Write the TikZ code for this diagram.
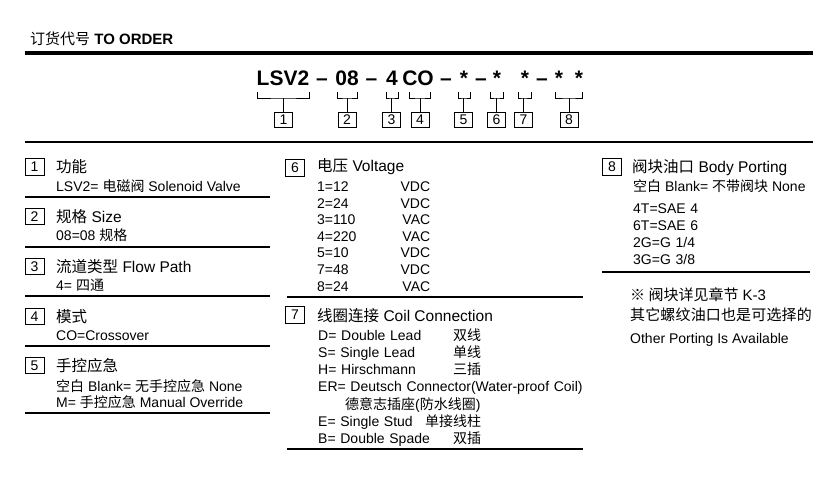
\documentclass[tikz,border=0pt]{standalone}
\usepackage{fontspec}
\setmainfont{Liberation Sans}
\newfontfamily\cjk{Noto Sans CJK SC}
\newfontfamily\cjkwide{Noto Sans CJK SC}[LetterSpace=1]
\newcommand{\zh}[1]{{\cjk #1}}
\usepackage{tikz}

\begin{document}
\begin{tikzpicture}[x=1pt, y=-1pt,
  head/.style={anchor=base west, inner sep=0, font=\fontsize{15.5}{18}\selectfont},
  txt/.style={anchor=base west, inner sep=0, font=\fontsize{14}{17}\selectfont},
  lst/.style={txt, align=left},
  part/.style={anchor=base, inner sep=0, font=\fontsize{21}{24}\selectfont\bfseries},
  num/.style={draw, line width=0.8pt, inner sep=0, minimum width=18pt, minimum height=15pt, font=\fontsize{14}{14}\selectfont},
  secnum/.style={num, minimum width=19pt, minimum height=16.5pt},
  rule/.style={line width=1.1pt},
  brace/.style={line width=0.8pt}]
\useasboundingbox (0,0) rectangle (821,482);
% заголовок
\node [anchor=base west, inner sep=0, font=\fontsize{15}{15}\selectfont] (title) at (30,44.5) {\zh{订货代号} \textbf{TO ORDER}};
\draw [line width=4pt] (25,53) -- (813,53);
% код
\node [part] (c1) at (283,85) {LSV2};
\node [part] (d1) at (322,85) {--};
\node [part] (c2) at (347,85) {08};
\node [part] (d2) at (371.5,85) {--};
\node [part] (c3) at (392,85) {4};
\node [part] (c4) at (418,85) {CO};
\node [part] (d3) at (446,85) {--};
\node [part] (c5) at (464,85) {*};
\node [part] (d4) at (481,85) {--};
\node [part] (c6) at (497,85) {*};
\node [part] (c7) at (525,85) {*};
\node [part] (d5) at (542,85) {--};
\node [part] (c8a) at (559,85) {*};
\node [part] (c8b) at (579,85) {*};
% номера
\node [num] (n1) at (283.5,119.5) {1};
\node [num] (n2) at (347,119.5) {2};
\node [num] (n3) at (391.5,119.5) {3};
\node [num] (n4) at (420,119.5) {4};
\node [num] (n5) at (463.5,119.5) {5};
\node [num] (n6) at (496.5,119.5) {6};
\node [num] (n7) at (523.5,119.5) {7};
\node [num] (n8) at (569,119.5) {8};
% скобки
\coordinate (a1) at (257,92); \coordinate (b1) at (309,92); \coordinate (m1) at (283.5,98);
\coordinate (a2) at (337,92); \coordinate (b2) at (357,92); \coordinate (m2) at (347,98);
\coordinate (a3) at (386,92); \coordinate (b3) at (398,92); \coordinate (m3) at (391.5,98);
\coordinate (a4) at (409,92); \coordinate (b4) at (430,92); \coordinate (m4) at (420,98);
\coordinate (a5) at (458,92); \coordinate (b5) at (470,92); \coordinate (m5) at (463.5,98);
\coordinate (a6) at (490,92); \coordinate (b6) at (503,92); \coordinate (m6) at (496.5,98);
\coordinate (a7) at (518,92); \coordinate (b7) at (531,92); \coordinate (m7) at (523.5,98);
\coordinate (a8) at (555,92); \coordinate (b8) at (582,92); \coordinate (m8) at (569,98);
\draw [brace] (a1) |- (m1) -| (b1) (m1) -- (n1);
\draw [brace] (a2) |- (m2) -| (b2) (m2) -- (n2);
\draw [brace] (a3) |- (m3) -| (b3) (m3) -- (n3);
\draw [brace] (a4) |- (m4) -| (b4) (m4) -- (n4);
\draw [brace] (a5) |- (m5) -| (b5) (m5) -- (n5);
\draw [brace] (a6) |- (m6) -| (b6) (m6) -- (n6);
\draw [brace] (a7) |- (m7) -| (b7) (m7) -- (n7);
\draw [brace] (a8) |- (m8) -| (b8) (m8) -- (n8);
\draw [rule] (25,142) -- (813,142);
% разделы 1-5
\node [secnum] (s1) at (34.5,167) {1};
\node [head] (h1) at (56,172) {\zh{功能}};
\node [txt] (t1) at (56,191) {LSV2= \zh{电磁阀} Solenoid Valve};
\draw [rule] (25,197) -- (270,197);
\node [secnum] (s2) at (34.5,216.5) {2};
\node [head] (h2) at (56,222) {\zh{规格} Size};
\node [txt] (t2) at (56,240) {08=08 \zh{规格}};
\draw [rule] (25,247) -- (270,247);
\node [secnum] (s3) at (34.5,266.5) {3};
\node [head] (h3) at (56,272) {\zh{流道类型} Flow Path};
\node [txt] (t3) at (56,290) {4= \zh{四通}};
\draw [rule] (25,296) -- (270,296);
\node [secnum] (s4) at (34.5,316.5) {4};
\node [head] (h4) at (56,322) {\zh{模式}};
\node [txt] (t4) at (56,340) {CO=Crossover};
\draw [rule] (25,346) -- (270,346);
\node [secnum] (s5) at (34.5,365.5) {5};
\node [head] (h5) at (56,371) {\zh{手控应急}};
\node [txt] (t5a) at (56,391) {\zh{空白} Blank= \zh{无手控应急} None};
\node [txt] (t5b) at (56,407) {M= \zh{手控应急} Manual Override};
\draw [rule] (25,413) -- (270,413);
% разделы 6-7
\node [secnum] (s6) at (295,168) {6};
\node [head] (h6) at (317,171.7) {\zh{电压} Voltage};
\node [lst, text width=113pt, font=\fontsize{14}{16.6}\selectfont] (t6) at (317,191.5)
  {1=12\hfill VDC\\2=24\hfill VDC\\3=110\hfill VAC\\4=220\hfill VAC\\5=10\hfill VDC\\7=48\hfill VDC\\8=24\hfill VAC};
\draw [rule] (287,297) -- (583,297);
\node [secnum] (s7) at (295,315) {7};
\node [head] (h7) at (317,321.7) {\zh{线圈连接} Coil Connection};
\node [lst, text width=272pt, font=\fontsize{14}{17.33}\selectfont] (t7) at (318,340)
  {\makebox[135pt][l]{D= Double Lead}\zh{双线}\\
   \makebox[135pt][l]{S= Single Lead}\zh{单线}\\
   \makebox[135pt][l]{H= Hirschmann}\zh{三插}\\
   ER= Deutsch Connector(Water-proof Coil)\\
   \hspace*{27pt}\zh{德意志插座}(\zh{防水线圈})\\
   \makebox[107pt][l]{E= Single Stud}\zh{单接线柱}\\
   \makebox[135pt][l]{B= Double Spade}\zh{双插}};
\draw [rule] (287,449) -- (583,449);
% раздел 8
\node [secnum] (s8) at (612,167) {8};
\node [head] (h8) at (632,172) {\zh{阀块油口} Body Porting};
\node [txt] (t8) at (633,191.5) {\zh{空白} Blank= \zh{不带阀块} None};
\node [lst, text width=120pt] (t8b) at (633,213) {4T=SAE 4\\6T=SAE 6\\2G=G 1/4\\3G=G 3/8};
\draw [rule] (602,272) -- (810,272);
% примечание
\node [txt, font=\fontsize{15}{15}\selectfont] (p1) at (630,300) {\zh{※ 阀块详见章节} K-3};
\node [txt, font=\fontsize{15}{15}\selectfont] (p2) at (630,320) {\cjkwide 其它螺纹油口也是可选择的};
\node [txt] (p3) at (630,343) {Other Porting Is Available};
\end{tikzpicture}
\end{document}
